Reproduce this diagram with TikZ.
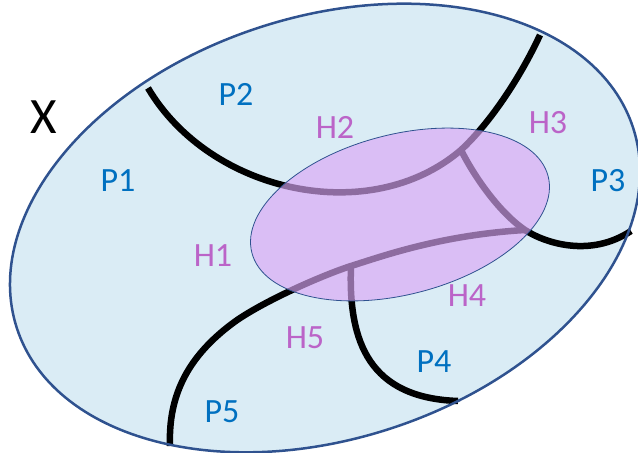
\documentclass[tikz,border=0pt]{standalone}
\usepackage{fontspec}
\setmainfont{Carlito}
\usepackage{tikz}
\usetikzlibrary{positioning}

\definecolor{setfill}{RGB}{218,236,245}
\definecolor{setline}{RGB}{47,82,143}
\definecolor{hfill}{RGB}{218,166,246}
\definecolor{ptext}{RGB}{0,112,192}
\definecolor{htext}{RGB}{187,100,200}

\tikzset{
  cut/.style={line width=6.5pt, black},
  plabel/.style={text=ptext, font=\fontsize{34}{40}\selectfont},
  hlabel/.style={text=htext, font=\fontsize{34}{40}\selectfont}
}

\begin{document}
\begin{tikzpicture}[x=1pt, y=1pt]

\useasboundingbox (0,0) rectangle (638,453);

% Множество X
\fill[setfill, rotate around={18:(325,225)}] (325,225) ellipse [x radius=324, y radius=211];

% Точки стыка
\coordinate (j1) at (461,303);
\coordinate (j2) at (525,223);
\coordinate (j3) at (351,187);

% Границы частей
\draw[cut] (148,365) .. controls (210,260) and (370,225) .. (j1)
  .. controls (490,330) and (520,375) .. (540,418);
\draw[cut] (j1) .. controls (475,275) and (500,240) .. (j2)
  .. controls (545,210) and (590,195) .. (631,222);
\draw[cut] (j2) .. controls (440,218) and (380,196) .. (j3)
  .. controls (320,177) and (260,150) .. (233,130)
  .. controls (190,98) and (168,60) .. (170,7);
\draw[cut] (j3) .. controls (348,110) and (370,55) .. (458,52);

% Контур X
\draw[setline, line width=2.5pt, rotate around={18:(325,225)}] (325,225) ellipse [x radius=324, y radius=211];

% Область H
\draw[setline, line width=0.8pt, fill=hfill, fill opacity=0.65, rotate around={14.5:(400,238.5)}] (400,238.5) ellipse [x radius=153, y radius=80];

% Подписи
\node (X) at (44,336) {\fontsize{51}{60}\selectfont X};
\node[plabel] (P1) at (118,272) {P1};
\node[plabel] (P2) at (236,359) {P2};
\node[plabel] (P3) at (608,272) {P3};
\node[plabel] (P4) at (434,91) {P4};
\node[plabel] (P5) at (222,41) {P5};
\node[hlabel] (H1) at (213,197) {H1};
\node[hlabel] (H2) at (335,326) {H2};
\node[hlabel] (H3) at (548,330) {H3};
\node[hlabel] (H4) at (467,157) {H4};
\node[hlabel] (H5) at (305,115) {H5};

\end{tikzpicture}
\end{document}
